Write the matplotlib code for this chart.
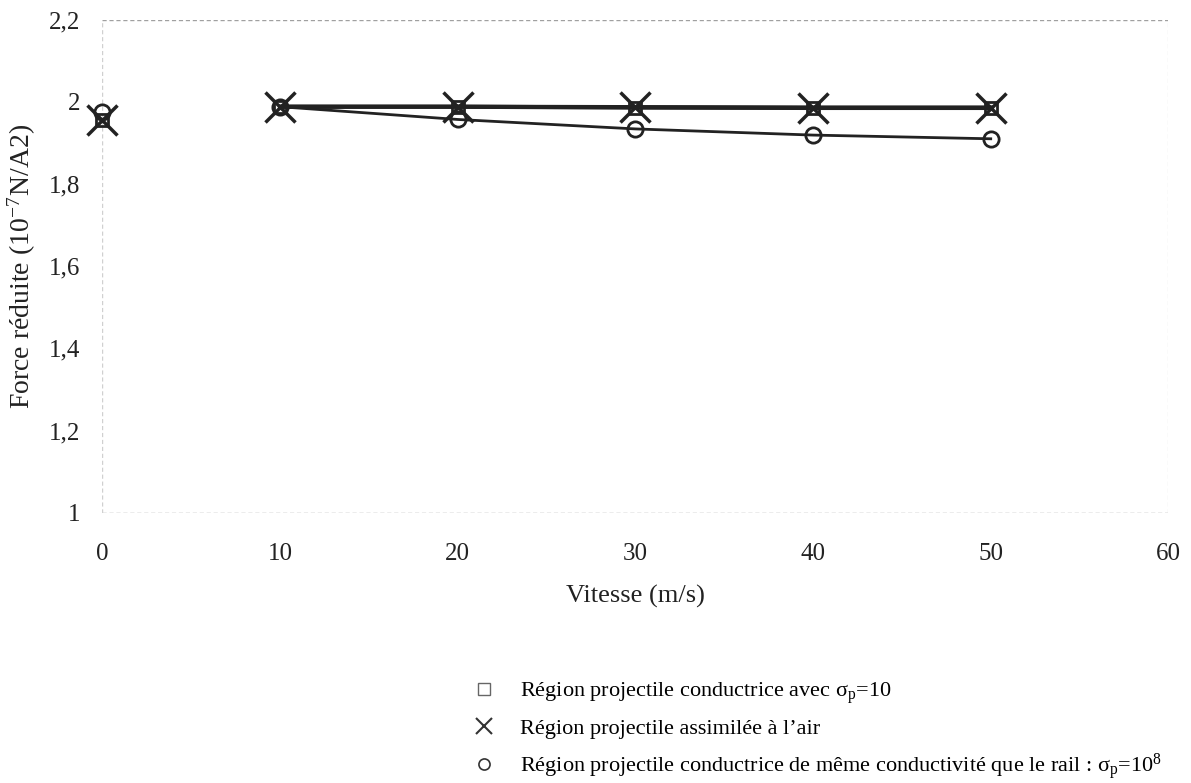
import numpy as np
import matplotlib
matplotlib.use('Agg')
import matplotlib.pyplot as plt
from matplotlib.lines import Line2D

plt.rcParams['font.family'] = ['Liberation Serif', 'DejaVu Serif']
plt.rcParams['mathtext.fontset'] = 'stix'

# ── Data ──
vitesse = [0, 10, 20, 30, 40, 50]
force_sigma10 = [1.955, 1.988, 1.988, 1.986, 1.985, 1.985]
force_air = [1.955, 1.988, 1.988, 1.987, 1.986, 1.986]
force_rail = [1.975, 1.988, 1.957, 1.934, 1.919, 1.91]

y_ticks = [1, 1.2, 1.4, 1.6, 1.8, 2, 2.2]
y_tick_labels = ['1', '1,2', '1,4', '1,6', '1,8', '2', '2,2']
x_ticks = [0, 10, 20, 30, 40, 50, 60]

legend_labels = [
    r'Région projectile conductrice avec $\mathregular{\sigma_p}$=10',
    'Région projectile assimilée à l\u2019air',
    r'Région projectile conductrice de même conductivité que le rail : $\mathregular{\sigma_p}$=10$\mathregular{^8}$',
]

fig = plt.figure(figsize=(11.91, 7.83), dpi=100)
ax = fig.add_axes([0.086, 0.345, 0.895, 0.63])

# lines only join the points from 10 m/s on
ax.plot(vitesse[1:], force_rail[1:], color='#222222', linewidth=2.0, zorder=2)
ax.plot(vitesse[1:], force_sigma10[1:], color='#222222', linewidth=3.0, zorder=3)
ax.plot(vitesse[1:], force_air[1:], color='#222222', linewidth=3.0, zorder=3)

ax.plot(vitesse, force_rail, linestyle='none', marker='o', markersize=11,
        markerfacecolor='none', markeredgecolor='#222222', markeredgewidth=2,
        zorder=4, clip_on=False)
ax.plot(vitesse, force_sigma10, linestyle='none', marker='s', markersize=9,
        markerfacecolor='none', markeredgecolor='#222222', markeredgewidth=2,
        zorder=4, clip_on=False)
ax.plot(vitesse, force_air, linestyle='none', marker='x', markersize=22,
        markeredgecolor='#222222', markeredgewidth=2.5, zorder=5, clip_on=False)

ax.set_xlim(0, 60)
ax.set_ylim(1, 2.2)
ax.set_xticks(x_ticks)
ax.set_yticks(y_ticks)
ax.set_yticklabels(y_tick_labels)
ax.tick_params(axis='both', length=0, labelsize=18, colors='#222222')
ax.tick_params(axis='y', pad=16)
ax.tick_params(axis='x', pad=22)

# faint dotted plot-area border, as on the scanned page
for s in ax.spines.values():
    s.set_visible(False)
ax.axhline(2.2, color='#a0a0a0', linewidth=1.0, linestyle=(0, (3, 2)), zorder=1)
ax.axhline(1.0, color='#a0a0a0', linewidth=1.0, linestyle=(0, (3, 2)), zorder=1)
ax.axvline(0, color='#d0d0d0', linewidth=1.0, linestyle=(0, (3, 2)), zorder=1)
ax.axvline(60, color='#e6e6e6', linewidth=1.0, linestyle=(0, (3, 2)), zorder=1)

ax.set_xlabel('Vitesse (m/s)', fontsize=19, color='#222222', labelpad=14)
ax.set_ylabel(r'Force réduite (10$^{\mathregular{-7}}$N/A2)', fontsize=20,
              color='#222222', labelpad=8)

handles = [
    Line2D([], [], linestyle='none', marker='s', markersize=9, markerfacecolor='none',
           markeredgecolor='#666666', markeredgewidth=1.0),
    Line2D([], [], linestyle='none', marker='x', markersize=12,
           markeredgecolor='#333333', markeredgewidth=1.5),
    Line2D([], [], linestyle='none', marker='o', markersize=8, markerfacecolor='none',
           markeredgecolor='#333333', markeredgewidth=1.2),
]
fig.legend(handles, legend_labels, loc='upper left', bbox_to_anchor=(0.39, 0.142),
           frameon=False, fontsize=16, handletextpad=1.1, labelspacing=0.55,
           handlelength=1.0, borderaxespad=0)

fig.savefig('out.png', dpi=100)
